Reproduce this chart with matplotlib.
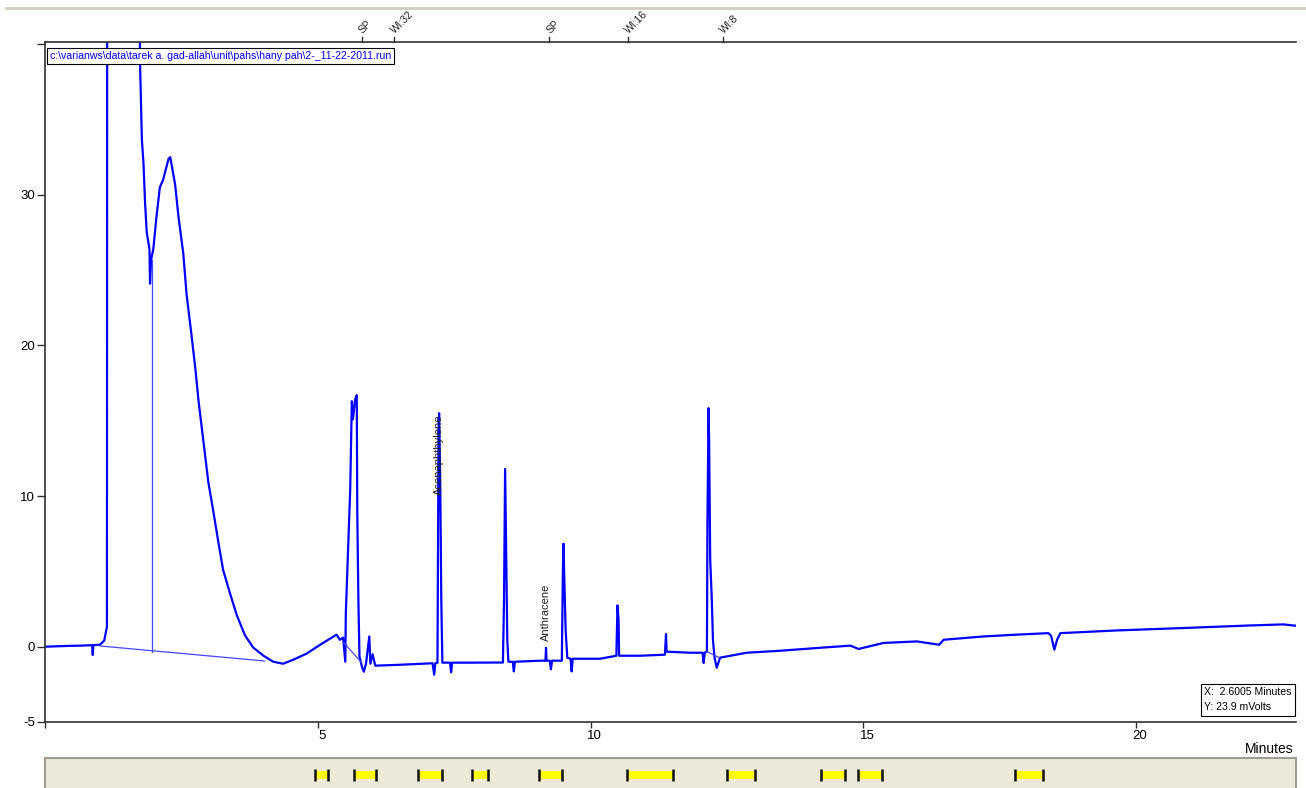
import matplotlib
matplotlib.use("Agg")
import matplotlib.pyplot as plt
from matplotlib.patches import Rectangle
from matplotlib.lines import Line2D
import matplotlib.transforms as mtransforms

plt.rcParams['font.family'] = ['Liberation Sans', 'DejaVu Sans']

# ---------------- data ----------------
# chromatogram trace: (minutes, mVolts)
trace_points = [
    (0.00, 0.00), (0.40, 0.05), (0.64, 0.07), (0.86, 0.10), (0.87, -0.55), (0.88, 0.10),
    (1.00, 0.13), (1.08, 0.40), (1.13, 1.33), (1.135, 45.0), (1.40, 60.0), (1.72, 45.0),
    (1.74, 38.3), (1.77, 33.7), (1.80, 32.1), (1.83, 29.4), (1.86, 27.5), (1.91, 26.4),
    (1.92, 24.1), (1.94, 25.7), (1.98, 26.4), (2.04, 28.6), (2.10, 30.5), (2.16, 31.0),
    (2.26, 32.4), (2.29, 32.5), (2.32, 31.9), (2.38, 30.7), (2.44, 28.6), (2.53, 26.1),
    (2.59, 23.4), (2.68, 20.7), (2.75, 18.5), (2.81, 16.3), (2.90, 13.6), (2.99, 10.9),
    (3.08, 9.0), (3.17, 7.0), (3.26, 5.1), (3.39, 3.5), (3.51, 2.1), (3.66, 0.76),
    (3.81, -0.05), (4.00, -0.6), (4.18, -1.0), (4.36, -1.13), (4.55, -0.86), (4.79, -0.46),
    (5.04, 0.13), (5.34, 0.80), (5.40, 0.46), (5.46, 0.60), (5.50, -1.0), (5.51, 2.26),
    (5.59, 10.4), (5.62, 16.3), (5.64, 15.1), (5.68, 16.4), (5.71, 16.7), (5.72, 8.9),
    (5.74, 3.1), (5.76, -0.64), (5.81, -1.4), (5.84, -1.66), (5.88, -1.13), (5.94, 0.68),
    (5.96, -1.13), (6.00, -0.5), (6.05, -1.26), (6.50, -1.2), (7.10, -1.1), (7.13, -1.86),
    (7.15, -1.1), (7.19, -1.06), (7.21, 14.4), (7.22, 15.5), (7.24, 11.1), (7.26, 3.1),
    (7.28, -1.06), (7.42, -1.06), (7.44, -1.7), (7.46, -1.06), (7.79, -1.06), (8.39, -1.05),
    (8.41, 3.1), (8.43, 11.8), (8.45, 6.4), (8.47, 0.46), (8.49, -1.0), (8.57, -1.0),
    (8.59, -1.64), (8.61, -1.0), (9.07, -0.93), (9.17, -0.93), (9.18, -0.07), (9.19, -0.93),
    (9.25, -0.93), (9.27, -1.5), (9.29, -0.93), (9.47, -0.93), (9.49, 5.1), (9.50, 6.84),
    (9.52, 3.8), (9.54, 1.1), (9.57, -0.73), (9.63, -0.8), (9.65, -1.64), (9.67, -0.8),
    (10.17, -0.8), (10.47, -0.6), (10.49, 2.74), (10.51, 1.8), (10.52, -0.6), (10.91, -0.6),
    (11.36, -0.53), (11.38, 0.84), (11.39, -0.33), (11.82, -0.4), (12.05, -0.4), (12.07, -1.08),
    (12.09, -0.4), (12.13, -0.33), (12.14, 8.4), (12.16, 15.84), (12.17, 13.7), (12.19, 5.8),
    (12.22, 3.1), (12.24, 0.46), (12.27, -0.73), (12.31, -1.4), (12.37, -0.73), (12.86, -0.4),
    (13.47, -0.27), (14.21, -0.07), (14.76, 0.07), (14.91, -0.15), (15.37, 0.25), (15.98, 0.35),
    (16.39, 0.13), (16.47, 0.46), (17.20, 0.68), (17.81, 0.80), (18.39, 0.90), (18.44, 0.73),
    (18.50, -0.2), (18.55, 0.46), (18.61, 0.90), (19.65, 1.08), (20.87, 1.24), (22.09, 1.41),
    (22.70, 1.48), (22.93, 1.39),
]
trace_time = [p[0] for p in trace_points]
trace_mv = [p[1] for p in trace_points]

# integration baselines and drop lines: ((t0, t1), (v0, v1))
baseline_segments = [
    ((1.00, 4.02), (0.05, -0.95)),
    ((1.95, 1.95), (25.7, -0.35)),
    ((5.47, 5.80), (0.27, -1.06)),
    ((12.13, 12.36), (-0.33, -0.73)),
]

# named peaks
peak_names = ['Acenaphthylene', 'Anthracene']
peak_times = [7.22, 9.18]
peak_label_mv = [10.1, 0.35]

# timed events along the top
event_labels = ['SP', 'WI:32', 'SP', 'WI:16', 'WI:8']
event_times = [5.80, 6.40, 9.24, 10.68, 12.42]

# integration windows shown in the bottom strip
window_start = [4.95, 5.66, 6.83, 7.83, 9.05, 10.67, 12.50, 14.22, 14.90, 17.78]
window_end = [5.18, 6.06, 7.27, 8.12, 9.47, 11.51, 13.01, 14.67, 15.34, 18.30]

xtick_vals = [0, 5, 10, 15, 20]
xtick_labels = ['', '5', '10', '15', '20']
ytick_vals = [-5, 0, 10, 20, 30, 40]
ytick_labels = ['-5', '0', '10', '20', '30', '']

file_path = r"c:\varianws\data\tarek a. gad-allah\unit\pahs\hany pah\2-_11-22-2011.run"
cursor_lines = ["X:  2.6005 Minutes", "Y: 23.9 mVolts"]

# ---------------- drawing ----------------
W, H = 1306, 788
fig = plt.figure(figsize=(W / 100, H / 100), dpi=100)
fig.patch.set_facecolor('white')


def fx(px):
    return px / W


def fy(py):
    return 1 - py / H


XMAX = 22.93
ax = fig.add_axes([fx(45.3), fy(722), fx(1296) - fx(45.3), fy(42) - fy(722)])
ax.plot(trace_time, trace_mv, color='#0000ff', lw=1.6)
for (t0, t1), (v0, v1) in baseline_segments:
    ax.plot([t0, t1], [v0, v1], color='#4646ff', lw=0.9)

ax.set_xlim(0, XMAX)
ax.set_ylim(-5, 40.15)
ax.spines['right'].set_visible(False)
for s in ['left', 'bottom', 'top']:
    ax.spines[s].set_color('#303030')
    ax.spines[s].set_linewidth(1.2)

ax.set_xticks(xtick_vals)
ax.set_xticklabels(xtick_labels)
ax.set_yticks(ytick_vals)
ax.set_yticklabels(ytick_labels)
ax.tick_params(axis='x', direction='out', length=4.5, width=1, pad=1.5,
               labelsize=9.5, color='#303030')
ax.tick_params(axis='y', direction='out', length=5.5, width=1, pad=2,
               labelsize=9.5, color='#303030')
shift = mtransforms.ScaledTranslation(4 / 100, 0, fig.dpi_scale_trans)
for lbl in ax.get_xticklabels():
    lbl.set_transform(lbl.get_transform() + shift)

# top event markers
xtrans = ax.get_xaxis_transform()
for lab, t in zip(event_labels, event_times):
    ax.plot([t, t], [1, 1 + 5 / 680], transform=xtrans, clip_on=False,
            color='#303030', lw=1)
    ax.annotate(lab, xy=(t, 1), xycoords=xtrans, xytext=(-3.5, 5),
                textcoords='offset points', rotation=45, ha='left',
                va='bottom', fontsize=7.5, color='#202020')

# peak labels
for name, t, v in zip(peak_names, peak_times, peak_label_mv):
    ax.text(t, v, name, rotation=90, ha='center', va='bottom',
            fontsize=8, color='#202020')

# file path box
fig.text(fx(50), fy(56), file_path, fontsize=7.6, color='#0000ff',
         ha='left', va='center',
         bbox=dict(boxstyle='square,pad=0.25', fc='white', ec='black', lw=0.8))

# cursor readout box
fig.add_artist(Rectangle((fx(1201), fy(716)), fx(94), 32 / H, transform=fig.transFigure,
                         fc='white', ec='black', lw=0.8))
fig.text(fx(1204), fy(692), cursor_lines[0], fontsize=7.6, ha='left', va='center')
fig.text(fx(1204), fy(707), cursor_lines[1], fontsize=7.6, ha='left', va='center')

fig.text(fx(1294), fy(749), 'Minutes', fontsize=10, ha='right', va='center')

# top separator
fig.add_artist(Line2D([fx(6), 1], [fy(8), fy(8)], color='#d0ccc0', lw=2))

# bottom strip with integration windows
axb = fig.add_axes([fx(45.3), 0, fx(1296) - fx(45.3), 30 / H])
axb.set_facecolor('#ece9d8')
axb.set_xlim(0, XMAX)
axb.set_ylim(0, 1)
axb.set_xticks([])
axb.set_yticks([])
for s in ['left', 'top', 'right']:
    axb.spines[s].set_color('#a09c90')
    axb.spines[s].set_linewidth(1.5)
axb.spines['bottom'].set_visible(False)
for s0, s1 in zip(window_start, window_end):
    axb.add_patch(Rectangle((s0, 0.3), s1 - s0, 0.27, fc='#ffff00', ec='none'))
    axb.vlines([s0, s1], 0.22, 0.62, color='#101010', lw=1.8)

fig.savefig('out.png', dpi=100, facecolor='white')
